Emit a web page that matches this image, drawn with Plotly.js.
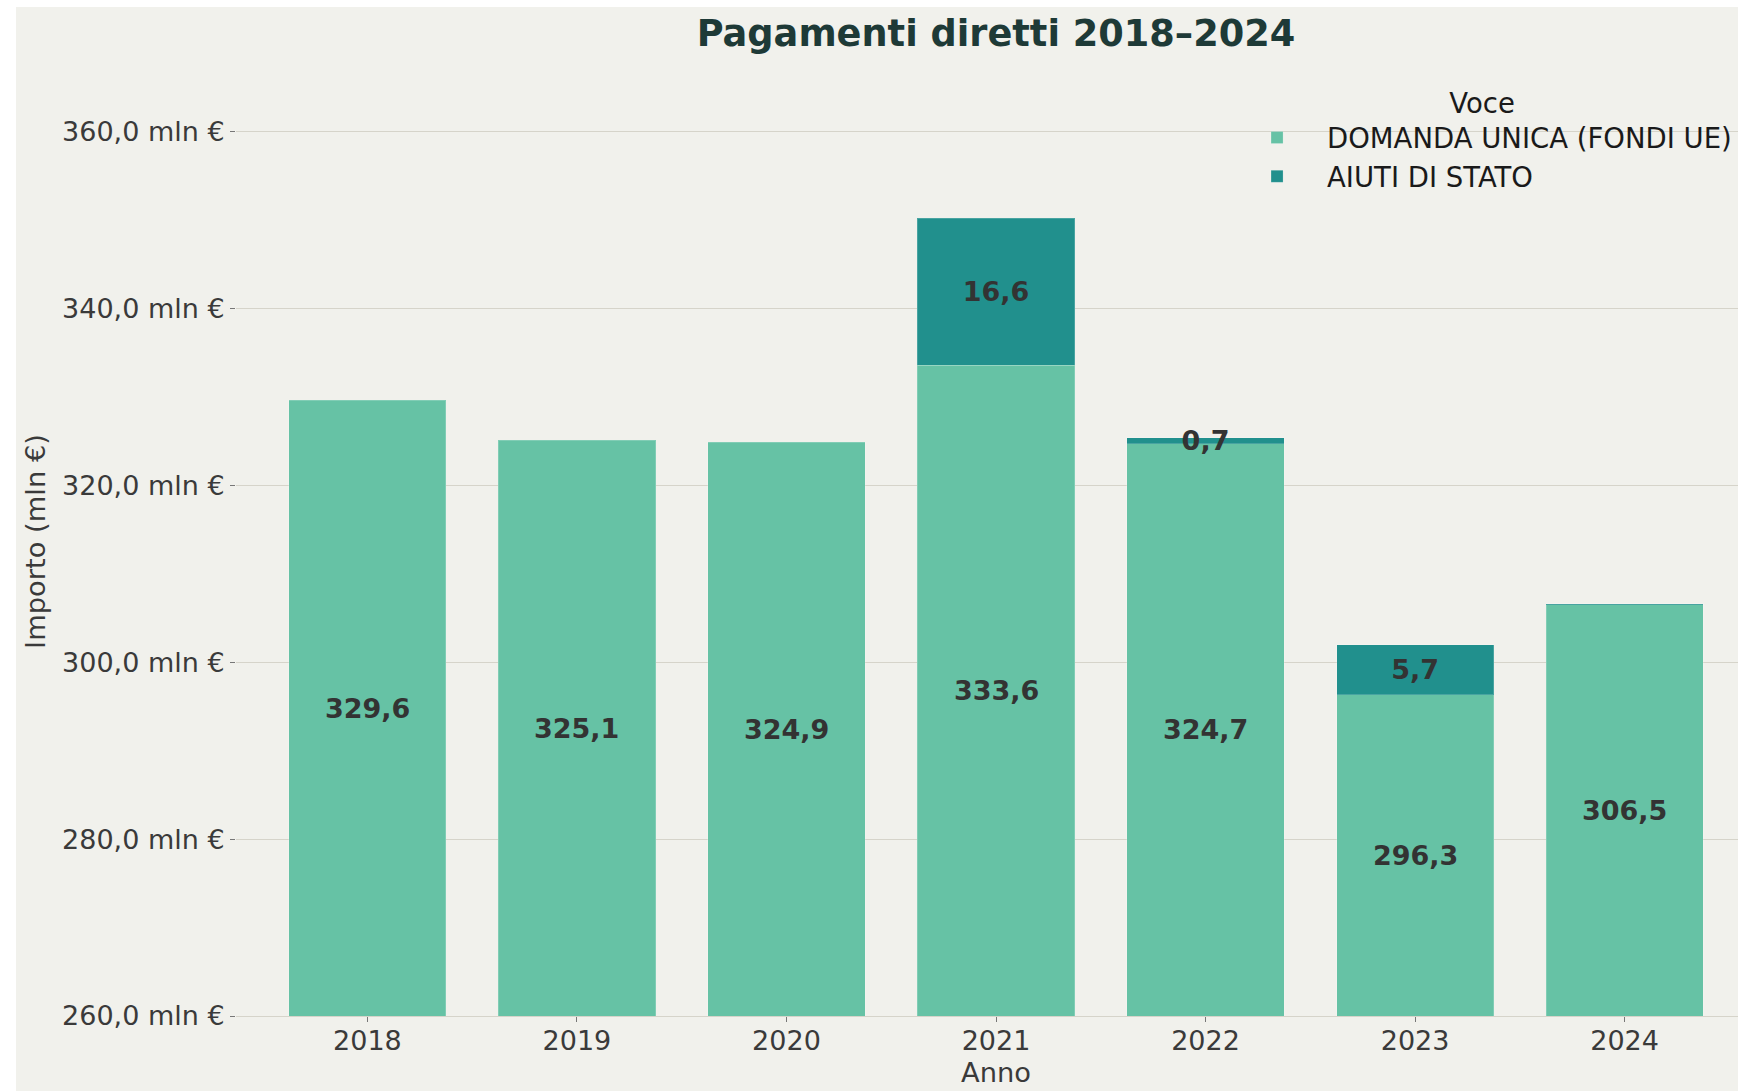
<!DOCTYPE html>
<html>
<head>
<meta charset="utf-8">
<script src="https://cdn.plot.ly/plotly-3.0.1.min.js"></script>
<style>
  html, body { margin: 0; padding: 0; background: #ffffff; overflow: hidden; width: 1738px; height: 1091px; }
  #chart { position: absolute; left: 16px; top: 7px; width: 1800px; height: 1084px; }
</style>
</head>
<body>
<div id="chart"></div>
<script>
const years = ['2018', '2019', '2020', '2021', '2022', '2023', '2024'];
const domandaUnica = [329.6, 325.1, 324.9, 333.6, 324.7, 296.3, 306.5];
const aiutiDiStato = [null, null, null, 16.6, 0.7, 5.7, 0.1];
const seriesNames = ['DOMANDA UNICA (FONDI UE)', 'AIUTI DI STATO'];
const yTickVals = [260, 280, 300, 320, 340, 360];
const yRange = [260, 367.3];

const fmt = v => v.toFixed(1).replace('.', ',');
const labelsFor = arr => arr.map(v => (v === null || v < 0.5) ? '' : fmt(v));

const FONT = '"DejaVu Sans", Verdana, sans-serif';
const labelFont = () => ({ family: FONT, size: 27, color: '#333333', weight: 'bold' });
const barLine = { color: 'rgba(255,255,255,0.18)', width: 1 };

const traces = [
  {
    type: 'bar', name: seriesNames[0], x: years, y: domandaUnica,
    marker: { color: '#66c2a5', line: barLine },
    hoverinfo: 'skip'
  },
  {
    type: 'bar', name: seriesNames[1], x: years, y: aiutiDiStato,
    marker: { color: '#21908d', line: barLine },
    text: labelsFor(aiutiDiStato), textposition: 'inside', insidetextanchor: 'middle',
    constraintext: 'none', textangle: 0, textfont: labelFont(), cliponaxis: false, hoverinfo: 'skip'
  }
];

// Labels of the lower segments: centred in the visible part of each bar (axis floor to bar top).
// x is the category index (a numeric-looking string would be read as an index).
const lowerLabels = years.map((yr, i) => ({
  x: i, y: (yRange[0] + domandaUnica[i]) / 2, xref: 'x', yref: 'y',
  text: fmt(domandaUnica[i]), showarrow: false, font: labelFont(),
  xanchor: 'center', yanchor: 'middle'
}));

const layout = {
  width: 1800, height: 1084,
  barmode: 'stack', bargap: 0.25,
  separators: ',.',
  paper_bgcolor: '#f1f1ec', plot_bgcolor: '#f1f1ec',
  font: { family: FONT, size: 27, color: '#3a3a3a' },
  margin: { l: 220, r: 60, t: 60, b: 75, autoexpand: false },
  title: {
    text: 'Pagamenti diretti 2018–2024',
    font: { family: FONT, size: 36.7, color: '#1e3a37', weight: 'bold' },
    x: 0.5, xref: 'paper', xanchor: 'center', y: 0.976, yref: 'container', yanchor: 'middle'
  },
  xaxis: {
    type: 'category', range: [-0.627, 6.627],
    title: { text: 'Anno', font: { family: FONT, size: 27.3, color: '#3a3a3a' }, standoff: 7 },
    ticks: 'outside', ticklen: 5, tickcolor: '#777777', tickwidth: 1, ticklabelstandoff: -4,
    tickfont: { family: FONT, size: 27, color: '#3a3a3a' },
    showgrid: false, zeroline: false, showline: true, linecolor: '#d6d4ca', linewidth: 1,
    automargin: false
  },
  yaxis: {
    range: yRange, tickvals: yTickVals, ticktext: yTickVals.map(v => fmt(v) + ' mln €'),
    title: { text: 'Importo (mln €)', font: { family: FONT, size: 27.3, color: '#3a3a3a' }, standoff: 8 },
    ticks: 'outside', ticklen: 5, tickcolor: '#777777', tickwidth: 1,
    tickfont: { family: FONT, size: 27, color: '#3a3a3a' },
    showgrid: true, gridcolor: '#d6d4ca', gridwidth: 1, zeroline: false, showline: false,
    automargin: false
  },
  legend: {
    x: 0.652, xanchor: 'left', y: 0.989, yanchor: 'top',
    itemwidth: 90,
    bgcolor: 'rgba(0,0,0,0)', borderwidth: 0,
    title: { text: 'Voce', side: 'top center', font: { family: FONT, size: 27.5, color: '#1a1a1a' } },
    font: { family: FONT, size: 27.5, color: '#1a1a1a' },
    traceorder: 'normal'
  },
  annotations: lowerLabels,
  showlegend: true
};

Plotly.newPlot('chart', traces, layout, { staticPlot: true, displayModeBar: false });
</script>
</body>
</html>
